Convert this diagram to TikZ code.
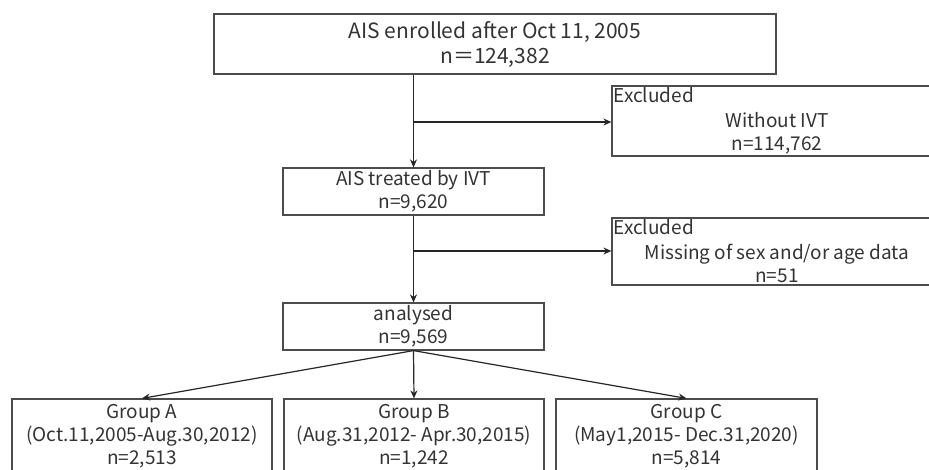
\documentclass[tikz,border=0pt]{standalone}
\usepackage{fontspec}
\setmainfont{Noto Sans CJK JP}
\usetikzlibrary{arrows.meta}
\begin{document}
\begin{tikzpicture}[x=1pt,y=-1pt,
  box/.style={draw=black!70, line width=1.2pt, rectangle, inner sep=0pt},
  conn/.style={draw=black!85, line width=1.2pt, -{Stealth[length=8pt,width=7pt]}},
  txt/.style={text=black!80, font=\fontsize{19}{23}\selectfont, align=center, inner sep=0pt}]
\useasboundingbox (0,0) rectangle (929,469);
\clip (0,0) rectangle (929,469);
% boxes
\node[box, txt, font=\fontsize{21}{25}\selectfont, minimum width=562pt, minimum height=60pt] (top) at (495,44) {AIS enrolled after Oct 11, 2005\\n＝124,382};
\node[box, txt, minimum width=261pt, minimum height=47pt] (ivt) at (413.5,191.5) {AIS treated by IVT\\n=9,620};
\node[box, txt, minimum width=261pt, minimum height=47pt] (ana) at (413.5,326.5) {analysed\\n=9,569};
\node[box, minimum width=333pt, minimum height=70pt] (ex1) at (778.5,121) {};
\node[box, minimum width=333pt, minimum height=67pt] (ex2) at (778.5,251.5) {};
\node[box, minimum width=260pt, minimum height=90pt] (ga) at (142,444) {};
\node[box, minimum width=260pt, minimum height=90pt] (gb) at (414,444) {};
\node[box, minimum width=261pt, minimum height=90pt] (gc) at (686.5,444) {};
% texts in excluded boxes
\node[txt, anchor=north west] (ex1h) at ([xshift=2pt,yshift=-2pt]ex1.north west) {Excluded};
\node[txt] (ex1t) at (777,133) {Without IVT\\n=114,762};
\node[txt, anchor=north west] (ex2h) at ([xshift=2pt,yshift=-2pt]ex2.north west) {Excluded};
\node[txt] (ex2t) at (777,263.5) {Missing of sex and/or age data\\n=51};
% group texts
\node[txt] (gat) at (142,436) {Group A\\(Oct.11,2005-Aug.30,2012)\\n=2,513};
\node[txt] (gbt) at (414,436) {Group B\\(Aug.31,2012- Apr.30,2015)\\n=1,242};
\node[txt] (gct) at (686.5,436) {Group C\\(May1,2015- Dec.31,2020)\\n=5,814};
% connectors
\coordinate (b1) at (413.5,122);
\coordinate (b2) at (413.5,251);
\draw[conn] (ivt.north |- top.south) -- (ivt.north);
\draw[conn] (b1) -- (b1 -| ex1.west);
\draw[conn] (ivt.south) -- (ana.north);
\draw[conn] (b2) -- (b2 -| ex2.west);
\draw[conn] (ana.south) -- (ga.north);
\draw[conn] (ana.south) -- (gb.north);
\draw[conn] (ana.south) -- (gc.north);
\end{tikzpicture}
\end{document}
